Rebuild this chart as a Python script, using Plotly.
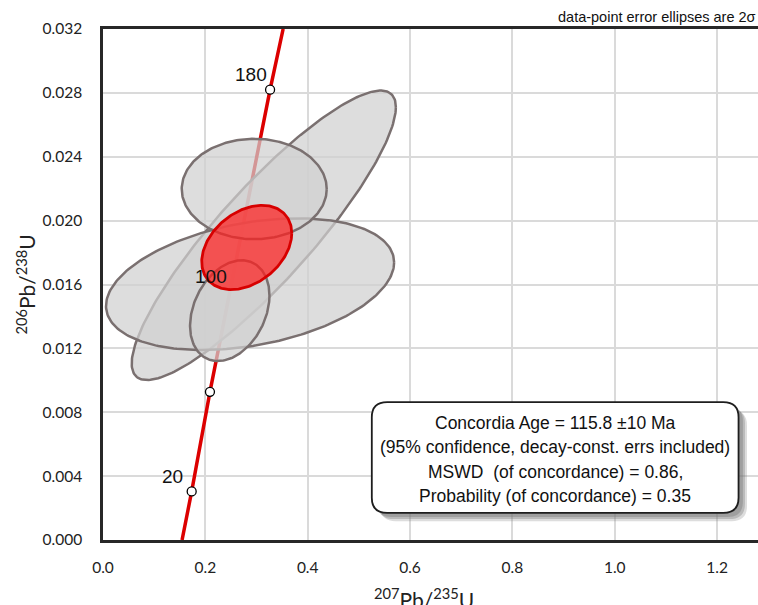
import numpy as np
import plotly.graph_objects as go

# Concordia curve (207Pb/235U, 206Pb/238U)
conc_x = [0.1545, 0.1733, 0.209, 0.2482, 0.2873, 0.3265, 0.352]
conc_y = [0.0, 0.00304, 0.00928, 0.01559, 0.0219, 0.0282, 0.032]

# Age markers shown on the concordia
mark_age = [20, 60, 180]
mark_x = [0.1733, 0.209, 0.3265]
mark_y = [0.00304, 0.00928, 0.0282]

# Age labels
label_age = ["20", "100", "180"]
label_x = [0.1733, 0.2482, 0.3265]
label_y = [0.00304, 0.01559, 0.0282]

# Data-point error ellipses (2 sigma): centre, half-widths, correlation
ell_cx = [0.3142, 0.2874, 0.2955, 0.2477]
ell_cy = [0.01908, 0.01602, 0.02198, 0.01436]
ell_sx = [0.2581, 0.2815, 0.1417, 0.0776]
ell_sy = [0.009063, 0.004125, 0.003144, 0.003156]
ell_rho = [0.885, 0.33, 0.0, 0.30]

# Concordia age ellipse
age_cx, age_cy, age_sx, age_sy, age_rho = 0.2809, 0.01832, 0.0880, 0.002638, 0.34

x_ticks = [0.0, 0.2, 0.4, 0.6, 0.8, 1.0, 1.2]
y_ticks = [0.000, 0.004, 0.008, 0.012, 0.016, 0.020, 0.024, 0.028, 0.032]

box_lines = [
    "Concordia Age = 115.8 \u00b110 Ma",
    "(95% confidence, decay-const. errs included)",
    "MSWD  (of concordance) = 0.86,",
    "Probability (of concordance) = 0.35",
]


def ellipse(cx, cy, sx, sy, rho, n=240):
    t = np.linspace(0, 2 * np.pi, n)
    x = cx + sx * np.cos(t)
    y = cy + sy * (rho * np.cos(t) + np.sqrt(1 - rho ** 2) * np.sin(t))
    return x, y


fig = go.Figure()

fig.add_trace(go.Scatter(x=conc_x, y=conc_y, mode="lines",
                         line=dict(color="rgb(220,0,0)", width=3.5),
                         hoverinfo="skip"))

for cx, cy, sx, sy, r in zip(ell_cx, ell_cy, ell_sx, ell_sy, ell_rho):
    ex, ey = ellipse(cx, cy, sx, sy, r)
    fig.add_trace(go.Scatter(x=ex, y=ey, mode="lines", fill="toself",
                             fillcolor="rgba(208,208,208,0.72)",
                             line=dict(color="rgb(122,112,112)", width=2.5)))

ex, ey = ellipse(age_cx, age_cy, age_sx, age_sy, age_rho)
fig.add_trace(go.Scatter(x=ex, y=ey, mode="lines", fill="toself",
                         fillcolor="rgba(255,30,30,0.72)",
                         line=dict(color="rgb(215,0,0)", width=2.8)))

fig.add_trace(go.Scatter(x=mark_x, y=mark_y, mode="markers",
                         marker=dict(size=9, color="white",
                                     line=dict(color="black", width=1.3))))

for t, x, y in zip(label_age, label_x, label_y):
    fig.add_annotation(x=x, y=y, text=t, showarrow=False,
                       xshift=-19, yshift=15,
                       font=dict(family="Liberation Sans, Arial", size=19, color="#111"))

# Rounded result box with shadow
bx0, bx1, by0, by1 = 0.5253, 1.242, 0.0017, 0.00864
rx, ry = 0.03, 0.00095


def rrect(x0, y0, x1, y1):
    return (f"M {x0+rx},{y1} L {x1-rx},{y1} Q {x1},{y1} {x1},{y1-ry} "
            f"L {x1},{y0+ry} Q {x1},{y0} {x1-rx},{y0} L {x0+rx},{y0} "
            f"Q {x0},{y0} {x0},{y0+ry} L {x0},{y1-ry} Q {x0},{y1} {x0+rx},{y1} Z")


for off, alpha in [(0.0165, 0.25), (0.0125, 0.35), (0.0085, 0.4)]:
    fig.add_shape(type="path", xref="x", yref="y",
                  path=rrect(bx0 + off, by0 - off * 0.0314, bx1 + off, by1 - off * 0.0314),
                  fillcolor=f"rgba(120,120,120,{alpha})", line=dict(width=0))
fig.add_shape(type="path", xref="x", yref="y", path=rrect(bx0, by0, bx1, by1),
              fillcolor="white", line=dict(color="rgb(30,30,30)", width=1.8))

line_y_px = [423, 447.5, 472, 496]
for txt, py in zip(box_lines, line_y_px):
    fig.add_annotation(x=(bx0 + bx1) / 2, y=(540.3 - py) / 16000, text=txt,
                       showarrow=False, xanchor="center", yanchor="middle",
                       font=dict(family="Liberation Sans, Arial", size=17.5, color="#111"))

fig.add_annotation(xref="paper", yref="paper", x=1.0, y=1.0, yshift=12,
                   text="data-point error ellipses are 2\u03c3", showarrow=False,
                   xanchor="right", yanchor="middle",
                   font=dict(family="Liberation Sans, Arial", size=14.5, color="#111"))

fig.add_annotation(xref="paper", yref="paper", x=-0.119, y=0.5,
                   text="<sup>206</sup>Pb/<sup>238</sup>U", textangle=-90,
                   showarrow=False, xanchor="center", yanchor="middle",
                   font=dict(family="Lato", size=21, color="#222"))
fig.add_annotation(xref="paper", yref="paper", x=0.49, y=-0.113,
                   text="<sup>207</sup>Pb/<sup>235</sup>U",
                   showarrow=False, xanchor="center", yanchor="middle",
                   font=dict(family="Lato", size=21, color="#222"))

fig.update_layout(
    width=758, height=605,
    margin=dict(l=103, r=0, t=29, b=65),
    plot_bgcolor="white", paper_bgcolor="white",
    showlegend=False,
    xaxis=dict(range=[0, 1.28], tickvals=x_ticks, ticktext=[f"{v:.1f}" for v in x_ticks],
               showgrid=True, gridcolor="rgb(218,218,218)", gridwidth=1.5,
               zeroline=False, showline=True, linecolor="rgb(40,40,40)", linewidth=2.5,
               mirror=True, ticks="", ticklabelstandoff=12,
               tickfont=dict(family="Lato", size=15.5, color="#222")),
    yaxis=dict(range=[0, 0.032], tickvals=y_ticks, ticktext=[f"{v:.3f}" for v in y_ticks],
               showgrid=True, gridcolor="rgb(218,218,218)", gridwidth=1.5,
               zeroline=False, showline=True, linecolor="rgb(40,40,40)", linewidth=2.5,
               ticks="", ticklabelstandoff=15,
               tickfont=dict(family="Lato", size=15.5, color="#222")),
)

fig.write_html("out.html")
